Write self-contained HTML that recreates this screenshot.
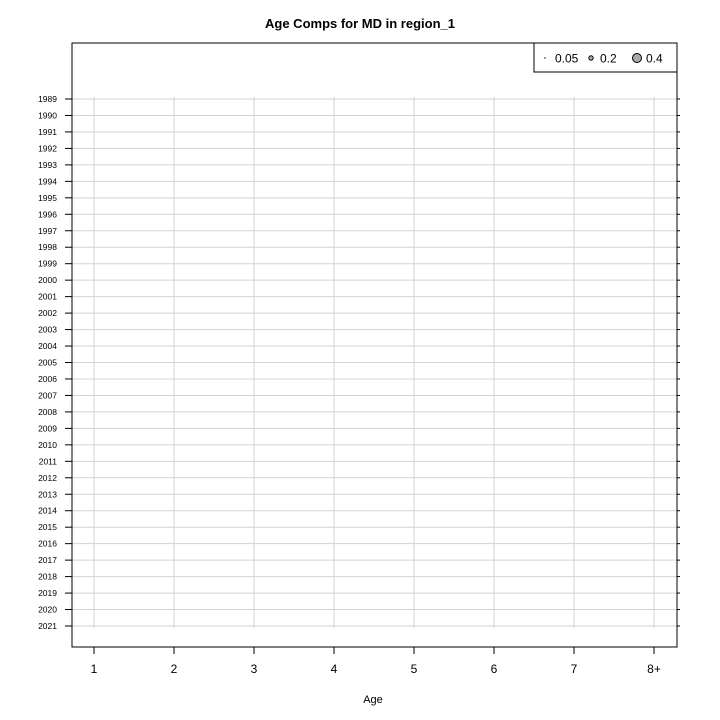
<!DOCTYPE html>
<html><head><meta charset="utf-8"><style>
body{margin:0;background:#fff;}
svg{display:block;font-family:"Liberation Sans",Arial,sans-serif;}
</style></head><body>
<svg id="chart" width="720" height="720">
<text x="360" y="28" text-anchor="middle" font-size="13" font-weight="bold">Age Comps for MD in region_1</text>
<g id="grid"></g>
<rect x="72" y="43" width="605" height="604" fill="none" stroke="#000" stroke-width="1"/>
<g id="axes"></g>
<g>
<rect x="534" y="43" width="143" height="29" fill="#fff" stroke="#000"/>
<circle cx="545" cy="58" r="0.7" fill="#000"/>
<text x="555" y="62.5" font-size="12">0.05</text>
<circle cx="591" cy="58" r="2.2" fill="#aaa" stroke="#000"/>
<text x="600" y="62.5" font-size="12">0.2</text>
<circle cx="637" cy="58" r="4.5" fill="#aaa" stroke="#000"/>
<text x="646" y="62.5" font-size="12">0.4</text>
</g>
<text x="373" y="703" text-anchor="middle" font-size="11">Age</text>
</svg>
<script>
const ages = ["1","2","3","4","5","6","7","8+"];
const years = [];
for (let y = 1989; y <= 2021; y++) years.push(String(y));
const values = []; // no observed proportions shown
const NS = "http://www.w3.org/2000/svg";
const xPos = i => 94 + i * 80;
const yPos = j => 99 + j * (527 / 32);
const grid = document.getElementById("grid"), axes = document.getElementById("axes");
function mk(tag, attrs, parent){const e=document.createElementNS(NS,tag);for(const k in attrs)e.setAttribute(k,attrs[k]);parent.appendChild(e);return e;}
years.forEach((yr,j)=>{
  const y=yPos(j);
  const l=mk("line",{x1:72,x2:677,y1:y,y2:y,stroke:"#d3d3d3","stroke-width":1},grid);
  
  
  const t=mk("line",{x1:65,x2:72,y1:y,y2:y,stroke:"#000"},axes);
  
  
  const t2=mk("line",{x1:677,x2:680,y1:y,y2:y,stroke:"#000"},axes);
  
  
  const tx=mk("text",{x:57,y:y+3,"text-anchor":"end","font-size":"8.5"},axes);
  tx.textContent=yr;
  
  
});
ages.forEach((a,i)=>{
  const x=xPos(i);
  const l=mk("line",{x1:x,x2:x,y1:97,y2:628,stroke:"#d3d3d3","stroke-width":1},grid);
  
  
  const t=mk("line",{x1:x,x2:x,y1:647,y2:654,stroke:"#000"},axes);
  
  
  const tx=mk("text",{x:x,y:673,"text-anchor":"middle","font-size":"12"},axes);
  tx.textContent=a;
  
  
});
values.forEach(v=>{
  const c=mk("circle",{cx:xPos(v[1]),cy:yPos(v[0]),r:Math.sqrt(v[2])*10,fill:"#aaa",stroke:"#000"},grid);
  
  
});
</script>
</body></html>
